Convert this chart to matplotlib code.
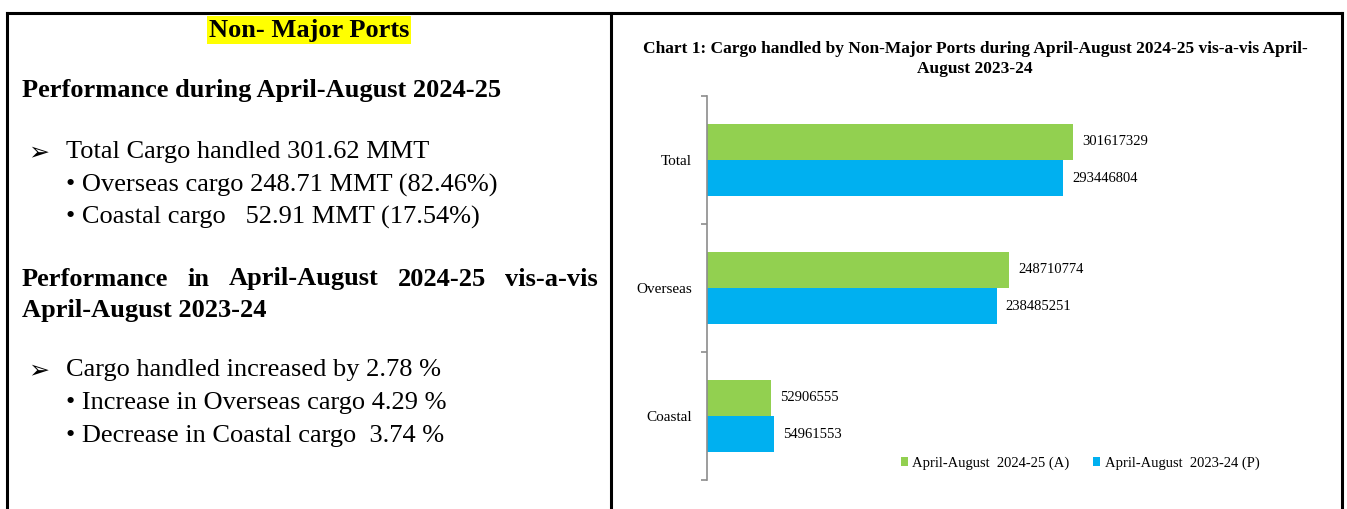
import matplotlib
matplotlib.use('Agg')
import matplotlib.pyplot as plt
from matplotlib.lines import Line2D
import numpy as np

# data
categories = ['Total', 'Overseas', 'Coastal']
cur_year = [301617329, 248710774, 52906555]   # April-August 2024-25 (A)
prev_year = [293446804, 238485251, 54961553]  # April-August 2023-24 (P)
series_names = ['April-August  2024-25 (A)', 'April-August  2023-24 (P)']
colors = ['#92D050', '#00B0F0']

title = ('Chart 1: Cargo handled by Non-Major Ports during April-August 2024-25 vis-a-vis April-\n'
         'August 2023-24')

W, H = 1347, 509
plt.rcParams['font.family'] = ['Liberation Serif', 'DejaVu Sans']

fig = plt.figure(figsize=(W / 100, H / 100), dpi=100)


def fx(x):
    return x / W


def fy(y):
    return 1 - y / H


# outer frame and divider
for xs, ys in [([7, 7], [13, H]), ([7, 1342], [13, 13]), ([611, 611], [13, H]), ([1342, 1342], [13, H])]:
    fig.add_artist(Line2D([fx(v) for v in xs], [fy(v) for v in ys], color='black', lw=2.2))

# ---- left panel text ----
fs = 19
fig.text(fx(309), fy(30), 'Non- Major Ports', fontsize=fs, fontweight='bold', ha='center', va='center',
         bbox=dict(facecolor='#FFFF00', edgecolor='none', pad=1.5))
fig.text(fx(22), fy(91), 'Performance during April-August 2024-25', fontsize=fs, fontweight='bold', va='center')

fig.text(fx(28), fy(152), '\u27a2', fontsize=fs - 1, va='center', family=['DejaVu Sans'])
fig.text(fx(66), fy(152), 'Total Cargo handled 301.62 MMT', fontsize=fs, va='center')
fig.text(fx(66), fy(185), '\u2022 Overseas cargo 248.71 MMT (82.46%)', fontsize=fs, va='center')
fig.text(fx(66), fy(217), '\u2022 Coastal cargo   52.91 MMT (17.54%)', fontsize=fs, va='center')

# justified heading line
words = ['Performance', 'in', 'April-August', '2024-25', 'vis-a-vis']
renderer = fig.canvas.get_renderer()
objs = [fig.text(0, fy(279), w, fontsize=fs, fontweight='bold', va='center') for w in words]
widths = [o.get_window_extent(renderer).width for o in objs]
x0, x1 = 22, 598
gap = (x1 - x0 - sum(widths)) / (len(words) - 1)
x = x0
for o, wd in zip(objs, widths):
    o.set_x(fx(x))
    x += wd + gap
fig.text(fx(22), fy(310), 'April-August 2023-24', fontsize=fs, fontweight='bold', va='center')

fig.text(fx(28), fy(370), '\u27a2', fontsize=fs - 1, va='center', family=['DejaVu Sans'])
fig.text(fx(66), fy(370), 'Cargo handled increased by 2.78 %', fontsize=fs, va='center')
fig.text(fx(66), fy(403), '\u2022 Increase in Overseas cargo 4.29 %', fontsize=fs, va='center')
fig.text(fx(66), fy(436), '\u2022 Decrease in Coastal cargo  3.74 %', fontsize=fs, va='center')

# ---- right panel chart ----
fig.text(fx(975), fy(59), title, fontsize=12.5, fontweight='bold', ha='center', va='center',
         linespacing=1.3)

ax = fig.add_axes([fx(707), fy(480), (1314 - 707) / W, (480 - 96) / H])
y = np.arange(len(categories))
h = 0.285
b1 = ax.barh(y - h / 2, cur_year, height=h, color=colors[0], label=series_names[0])
b2 = ax.barh(y + h / 2, prev_year, height=h, color=colors[1], label=series_names[1])
ax.set_xlim(0, 500e6)
ax.set_ylim(2.5, -0.5)

for bars, vals in [(b1, cur_year), (b2, prev_year)]:
    for bar, v in zip(bars, vals):
        ax.annotate(str(v), (bar.get_width(), bar.get_y() + bar.get_height() / 2),
                    xytext=(6.5, 0), textcoords='offset points', va='center', fontsize=10.5)

for s in ['top', 'right', 'bottom']:
    ax.spines[s].set_visible(False)
ax.spines['left'].set_color('#8c8c8c')
ax.spines['left'].set_linewidth(1.2)
ax.set_xticks([])
ax.set_yticks([-0.5, 0.5, 1.5, 2.5])
ax.set_yticklabels([])
ax.tick_params(axis='y', which='major', length=4, color='#8c8c8c', width=1.2)
ax.set_yticks(y, minor=True)
ax.set_yticklabels(categories, minor=True, fontsize=11)
ax.tick_params(axis='y', which='minor', length=0, pad=11)

ax.legend(loc='center', bbox_to_anchor=(fx(1080), fy(463)), bbox_transform=fig.transFigure,
          ncol=2, frameon=False, fontsize=10.5, handlelength=0.5, handleheight=0.5,
          handletextpad=0.3, columnspacing=1.6, borderpad=0)

fig.savefig('out.png', dpi=100)
